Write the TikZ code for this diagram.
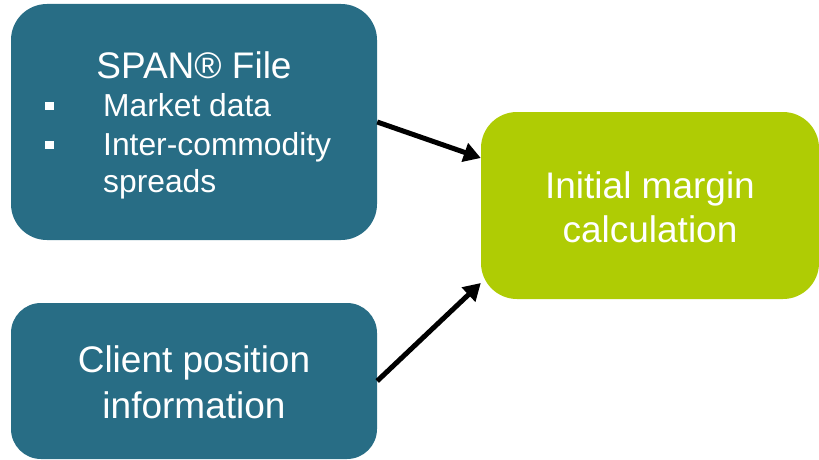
\documentclass[tikz,border=0pt]{standalone}
\usepackage{fontspec}
\setmainfont{Liberation Sans}
\usetikzlibrary{arrows.meta}
\definecolor{teal}{HTML}{286D85}
\definecolor{lime}{HTML}{AFCC04}
\tikzset{
  box/.style={rectangle, rounded corners=36pt, inner sep=0pt, draw=none},
  bluebox/.style={box, fill=teal},
  greenbox/.style={box, fill=lime},
  bigtxt/.style={text=white, inner sep=0pt, anchor=base, font=\fontsize{37}{44}\selectfont},
  smalltxt/.style={text=white, inner sep=0pt, anchor=base west, font=\fontsize{31.8}{38}\selectfont},
  bulletsq/.style={fill=white, inner sep=0pt, minimum size=8.5pt, rectangle},
  conn/.style={line width=5pt, -{Triangle[length=17pt,width=19pt]}, black}
}
\begin{document}
\begin{tikzpicture}[x=1pt,y=-1pt]
\useasboundingbox (0,0) rectangle (819,460);
\node[bluebox, minimum width=366pt, minimum height=236pt] (span) at (194,122) {};
\node[bluebox, minimum width=366pt, minimum height=156pt, rounded corners=30pt] (client) at (194,381) {};
\node[greenbox, minimum width=338pt, minimum height=187pt] (calc) at (650,205.5) {};

\node[bigtxt] (spantitle) at (194,78) {SPAN® File};
\node[bulletsq] (b1) at (49.5,106) {};
\node[bulletsq] (b2) at (49.5,145) {};
\node[smalltxt] (t1) at (103,116) {Market data};
\node[smalltxt] (t2) at (103,155) {Inter-commodity};
\node[smalltxt] (t3) at (103,192) {spreads};

\node[bigtxt] (c1) at (194,372) {Client position};
\node[bigtxt] (c2) at (194,418) {information};

\node[bigtxt] (m1) at (650,198) {Initial margin};
\node[bigtxt] (m2) at (650,242) {calculation};

\draw[conn] (span.east) -- ([yshift=47.5pt]calc.west);
\draw[conn] (client.east) -- ([yshift=-77.5pt]calc.west);
\end{tikzpicture}
\end{document}
